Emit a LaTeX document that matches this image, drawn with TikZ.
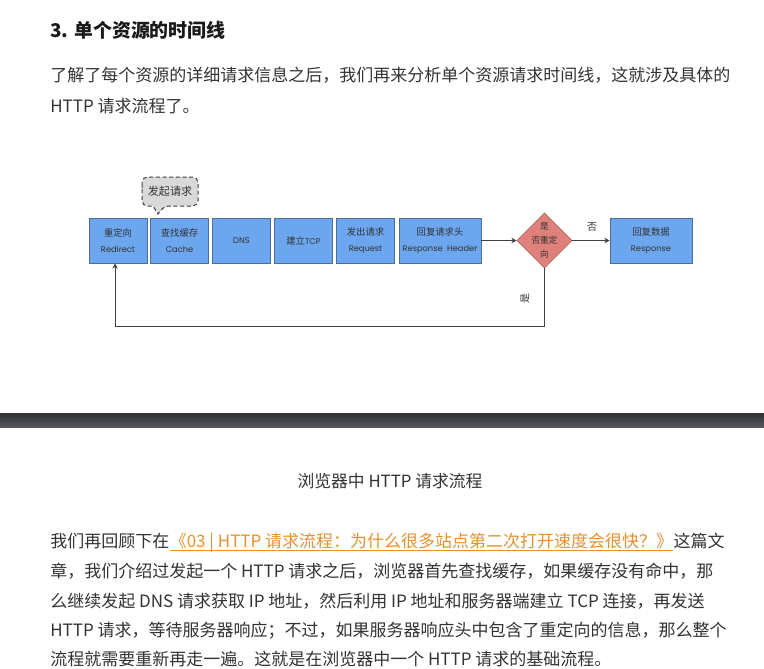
\documentclass[tikz,border=0pt]{standalone}
\usepackage{fontspec}
\setmainfont{Noto Sans CJK SC}
\newfontfamily\sketchfont{Poppins}
\usetikzlibrary{shapes.geometric,arrows.meta,positioning}

\definecolor{boxblue}{HTML}{6CA6EE}
\definecolor{boxedge}{HTML}{4C6E96}
\definecolor{redirfill}{HTML}{E0807A}
\definecolor{rediredge}{HTML}{9A5A58}
\definecolor{calloutgray}{HTML}{D9D9D9}
\definecolor{bartop}{HTML}{2F3033}
\definecolor{barbottom}{HTML}{56595D}
\definecolor{linkorange}{HTML}{E8912D}
\definecolor{bodytext}{HTML}{333333}

\newcommand{\latin}[1]{{\sketchfont\fontsize{6.2}{11.5}\selectfont #1}}

\begin{document}
\begin{tikzpicture}[
  x=0.75pt, y=-0.75pt,
  stepbox/.style={
    draw=boxedge, fill=boxblue, minimum width=43.5pt, minimum height=33.75pt,
    inner sep=0pt, align=center, text=black!80,
    font=\fontsize{7}{11.5}\selectfont
  },
  widebox/.style={stepbox, minimum width=61.5pt},
  decision/.style={
    diamond, draw=rediredge, fill=redirfill, minimum width=41.25pt,
    minimum height=41.25pt, inner sep=0pt
  },
  flow/.style={
    draw=black!75, line width=0.75pt, -{Stealth[length=4pt,width=4pt]}
  },
  small/.style={font=\fontsize{7.5}{9}\selectfont, text=black!80, inner sep=0pt},
  body/.style={
    anchor=west, inner sep=0pt, text=bodytext,
    font=\fontsize{12.75}{18}\selectfont
  },
]
\useasboundingbox[fill=white] (0,0) rectangle (764,668);

% Heading and intro
\node[body, text=black!90, font=\fontsize{14.2}{18}\bfseries] (title) at (50,30) {3. 单个资源的时间线};
\node[body] (intro1) at (50,75) {了解了每个资源的详细请求信息之后，我们再来分析单个资源请求时间线，这就涉及具体的};
\node[body] (intro2) at (50,106) {HTTP 请求流程了。};

% Request steps
\node[stepbox] (redirect) at (118,240.5) {重定向\\\latin{Redirect}};
\node[stepbox] (cache) at (179.5,240.5) {查找缓存\\\latin{Cache}};
\node[stepbox] (dns) at (241.5,240.5) {\latin{DNS}};
\node[stepbox] (tcp) at (303.5,240.5) {建立\latin{TCP}};
\node[stepbox] (request) at (365.5,240.5) {发出请求\\\latin{Request}};
\node[widebox] (header) at (440,240.5) {回复请求头\\\latin{Response\ \ Header}};
\node[decision] (redir) at (544.5,240.5) {};
\node[small, align=center, font=\fontsize{6.5}{10.5}\selectfont] (redirtext) at (redir) {是\\否重定\\向};
\node[widebox] (response) at (651,240.5) {回复数据\\\latin{Response}};

% Callout over the cache step
\draw[draw=black!75, fill=calloutgray, line width=0.75pt, dash pattern=on 3pt off 2pt]
  (142,191) [rounded corners=4pt] |- (198,177) |- (164,206)
  [sharp corners] -- (158,214) -- (153,206)
  [rounded corners=4pt] -| (142,191) -- cycle;
\node[small, font=\fontsize{8.3}{9}\selectfont] (ask) at (170,191.5) {发起请求};

% Connectors
\coordinate (back) at (115,326);
\draw[flow] (header) -- (redir);
\draw[flow] (redir) -- (response);
\node[small] (no) at (592,227) {否};
\draw[flow] (redir.south) |- (back) -- (back |- redirect.south);
\node[small, rotate=90] (yes) at (525,298) {是};

% Dark bar
\shade[top color=bartop, bottom color=barbottom] (0,413) rectangle (764,427);

% Caption
\node[body, anchor=center, font=\fontsize{12.6}{16}\selectfont] (caption) at (390,481) {浏览器中 HTTP 请求流程};

% Closing paragraph
\node[body] (para1) at (50,541) {我们再回顾下在};
\node[body, anchor=base west, text=linkorange] (link) at (para1.base east) {《03 | HTTP 请求流程：为什么很多站点第二次打开速度会很快？》};
\node[body, anchor=base west] (para1b) at (link.base east) {这篇文};
\draw[linkorange, line width=0.75pt] ([yshift=-2.5pt]link.base west) -- ([yshift=-2.5pt]link.base east);
\node[body] (para2) at (50,571) {章，我们介绍过发起一个 HTTP 请求之后，浏览器首先查找缓存，如果缓存没有命中，那};
\node[body] (para3) at (50,601) {么继续发起 DNS 请求获取 IP 地址，然后利用 IP 地址和服务器端建立 TCP 连接，再发送};
\node[body] (para4) at (50,631) {HTTP 请求，等待服务器响应；不过，如果服务器响应头中包含了重定向的信息，那么整个};
\node[body] (para5) at (50,659) {流程就需要重新再走一遍。这就是在浏览器中一个 HTTP 请求的基础流程。};

\end{tikzpicture}
\end{document}
